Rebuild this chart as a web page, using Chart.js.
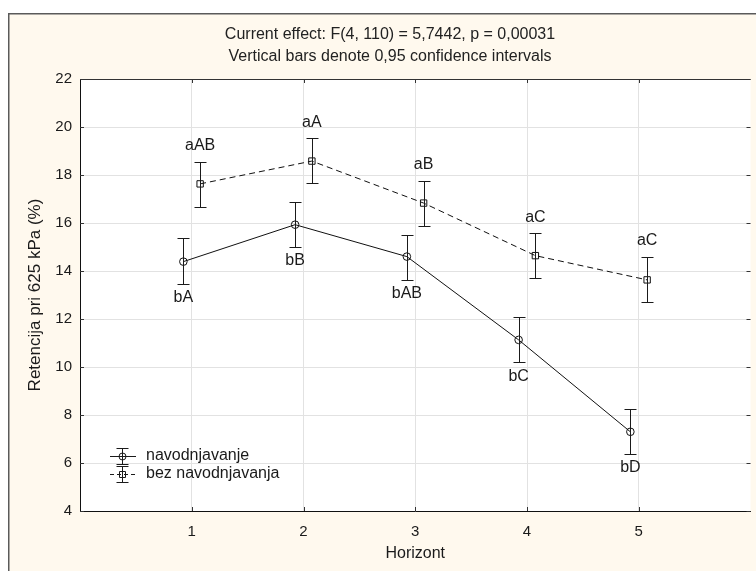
<!DOCTYPE html>
<html>
<head>
<meta charset="utf-8">
<script src="https://cdn.jsdelivr.net/npm/chart.js@4"></script>
<style>
  html, body { margin: 0; padding: 0; background: #fff; }
  #wrap { width: 756px; height: 571px; }
</style>
</head>
<body>
<div id="wrap"><canvas id="myChart" width="756" height="571"></canvas></div>
<script>
// horizons (x categories)
const horizons = [1, 2, 3, 4, 5];
// irrigated ("navodnjavanje") means and 0.95 CI
const irrigated = [14.39, 15.93, 14.60, 11.13, 7.30];
const irrigatedLow = [13.47, 15.01, 13.63, 10.20, 6.38];
const irrigatedHigh = [15.36, 16.89, 15.50, 12.07, 8.25];
const irrigatedLetters = ['bA', 'bB', 'bAB', 'bC', 'bD'];
// non irrigated ("bez navodnjavanja")
const dry = [17.63, 18.58, 16.83, 14.64, 13.63];
const dryLow = [16.68, 17.65, 15.88, 13.70, 12.70];
const dryHigh = [18.55, 19.53, 17.75, 15.57, 14.60];
const dryLetters = ['aAB', 'aA', 'aB', 'aC', 'aC'];
const yTicks = [4, 6, 8, 10, 12, 14, 16, 18, 20, 22];

const titleLines = ['Current effect: F(4, 110) = 5,7442, p = 0,00031',
                    'Vertical bars denote 0,95 confidence intervals'];
const FONT = '"Liberation Sans", Arial, sans-serif';
const shift = 0.075; // small side shift so the bars don't overlap

const pts = (vals, dx) => horizons.map((h, i) => ({x: h + dx, y: vals[i]}));

const background = {
    id: 'background',
    beforeDraw(chart) {
        const c = chart.ctx, a = chart.chartArea;
        c.save();
        c.fillStyle = '#ffffff';
        c.fillRect(0, 0, chart.width, chart.height);
        c.fillStyle = '#fff9ee';
        c.fillRect(9, 14, chart.width, chart.height);
        c.strokeStyle = '#5a5a5a';
        c.lineWidth = 1.5;
        c.strokeRect(8.75, 13.75, chart.width + 10, chart.height + 10);
        c.fillStyle = '#ffffff';
        c.fillRect(a.left, a.top, a.right - a.left, a.bottom - a.top);
        // titles
        c.fillStyle = '#222';
        c.font = '16px ' + FONT;
        c.textAlign = 'center';
        c.textBaseline = 'middle';
        c.fillText(titleLines[0], 390, 35);
        c.fillText(titleLines[1], 390, 57);
        c.restore();
    }
};

const extras = {
    id: 'extras',
    afterDatasetsDraw(chart) {
        const c = chart.ctx, a = chart.chartArea;
        const xs = chart.scales.x, ys = chart.scales.y;
        c.save();
        // frame top + inward ticks
        c.strokeStyle = '#333';
        c.lineWidth = 1;
        c.beginPath();
        c.moveTo(a.left, a.top + 0.5); c.lineTo(a.right, a.top + 0.5);
        yTicks.forEach(v => {
            const y = Math.round(ys.getPixelForValue(v)) + 0.5;
            c.moveTo(a.left, y); c.lineTo(a.left + 4, y);
            c.moveTo(a.right, y); c.lineTo(a.right - 4, y);
        });
        horizons.forEach(v => {
            const x = Math.round(xs.getPixelForValue(v)) + 0.5;
            c.moveTo(x, a.top); c.lineTo(x, a.top + 4);
            c.moveTo(x, a.bottom); c.lineTo(x, a.bottom - 4);
        });
        c.stroke();

        // error bars
        const bars = [[irrigatedLow, irrigatedHigh, -shift], [dryLow, dryHigh, shift]];
        c.strokeStyle = '#1a1a1a';
        bars.forEach(([lo, hi, dx]) => {
            horizons.forEach((h, i) => {
                const x = Math.round(xs.getPixelForValue(h + dx)) + 0.5;
                const y1 = Math.round(ys.getPixelForValue(lo[i])) + 0.5;
                const y2 = Math.round(ys.getPixelForValue(hi[i])) + 0.5;
                c.beginPath();
                c.moveTo(x, y1); c.lineTo(x, y2);
                c.moveTo(x - 6, y1); c.lineTo(x + 6, y1);
                c.moveTo(x - 6, y2); c.lineTo(x + 6, y2);
                c.stroke();
            });
        });

        // letters
        c.fillStyle = '#1a1a1a';
        c.font = '16px ' + FONT;
        c.textAlign = 'center';
        c.textBaseline = 'middle';
        horizons.forEach((h, i) => {
            c.fillText(irrigatedLetters[i], xs.getPixelForValue(h - shift), ys.getPixelForValue(irrigatedLow[i]) + 14);
            c.fillText(dryLetters[i], xs.getPixelForValue(h + shift), ys.getPixelForValue(dryHigh[i]) - 16);
        });

        // legend
        const rows = [
            {label: 'navodnjavanje', dash: [], y: 456, style: 'circle'},
            {label: 'bez navodnjavanja', dash: [4, 3], y: 474, style: 'rect'}
        ];
        c.font = '16px ' + FONT;
        c.textAlign = 'left';
        rows.forEach(r => {
            const cx = 122.5, y = r.y + 0.5;
            c.strokeStyle = '#1a1a1a';
            c.setLineDash(r.dash);
            c.beginPath();
            c.moveTo(110, y); c.lineTo(136, y);
            c.stroke();
            c.setLineDash([]);
            c.beginPath();
            c.moveTo(cx, y - 8); c.lineTo(cx, y + 8);
            c.moveTo(cx - 6, y - 8); c.lineTo(cx + 6, y - 8);
            c.moveTo(cx - 6, y + 8); c.lineTo(cx + 6, y + 8);
            c.stroke();
            c.beginPath();
            if (r.style === 'circle') c.arc(cx, y, 3.5, 0, Math.PI * 2);
            else c.rect(cx - 3, y - 3, 6, 6);
            c.stroke();
            c.fillStyle = '#1a1a1a';
            c.fillText(r.label, 146, r.y);
        });
        c.restore();
    }
};

const ctx = document.getElementById('myChart').getContext('2d');
const myChart = new Chart(ctx, {
    type: 'line',
    data: {
        datasets: [{
            label: 'navodnjavanje',
            data: pts(irrigated, -shift),
            borderColor: '#111',
            borderWidth: 1,
            pointStyle: 'circle',
            pointRadius: 3.8,
            pointBorderColor: '#111',
            pointBackgroundColor: 'transparent',
            pointBorderWidth: 1,
            tension: 0
        }, {
            label: 'bez navodnjavanja',
            data: pts(dry, shift),
            borderColor: '#111',
            borderWidth: 1,
            borderDash: [6, 4],
            pointStyle: 'rect',
            pointRadius: 4.5,
            pointBorderColor: '#111',
            pointBackgroundColor: 'transparent',
            pointBorderWidth: 1,
            tension: 0
        }]
    },
    options: {
        responsive: false,
        animation: false,
        layout: { padding: { top: 79, left: 0, right: 0, bottom: 0 } },
        scales: {
            x: {
                type: 'linear',
                min: 0,
                max: 6,
                afterFit: s => { s.height = 60; },
                afterBuildTicks: s => { s.ticks = horizons.map(v => ({value: v})); },
                grid: { color: '#e2e2e2', drawTicks: false },
                border: { color: '#111', width: 1 },
                ticks: { color: '#1a1a1a', padding: 12, font: { family: FONT, size: 15 } },
                title: { display: true, text: 'Horizont', color: '#1a1a1a', padding: { top: 0, bottom: 8 },
                         font: { family: FONT, size: 16 } }
            },
            y: {
                min: 4,
                max: 22,
                afterFit: s => { s.width = 80; },
                afterBuildTicks: s => { s.ticks = yTicks.map(v => ({value: v})); },
                grid: { color: '#e2e2e2', drawTicks: false },
                border: { color: '#111', width: 1 },
                ticks: { color: '#1a1a1a', padding: 8, font: { family: FONT, size: 15 } },
                title: { display: true, text: 'Retencija pri 625 kPa (%)', color: '#1a1a1a', padding: { top: 25, bottom: 0 },
                         font: { family: FONT, size: 17 } }
            }
        },
        plugins: {
            legend: { display: false },
            tooltip: { enabled: false }
        }
    },
    plugins: [background, extras]
});
</script>
</body>
</html>
